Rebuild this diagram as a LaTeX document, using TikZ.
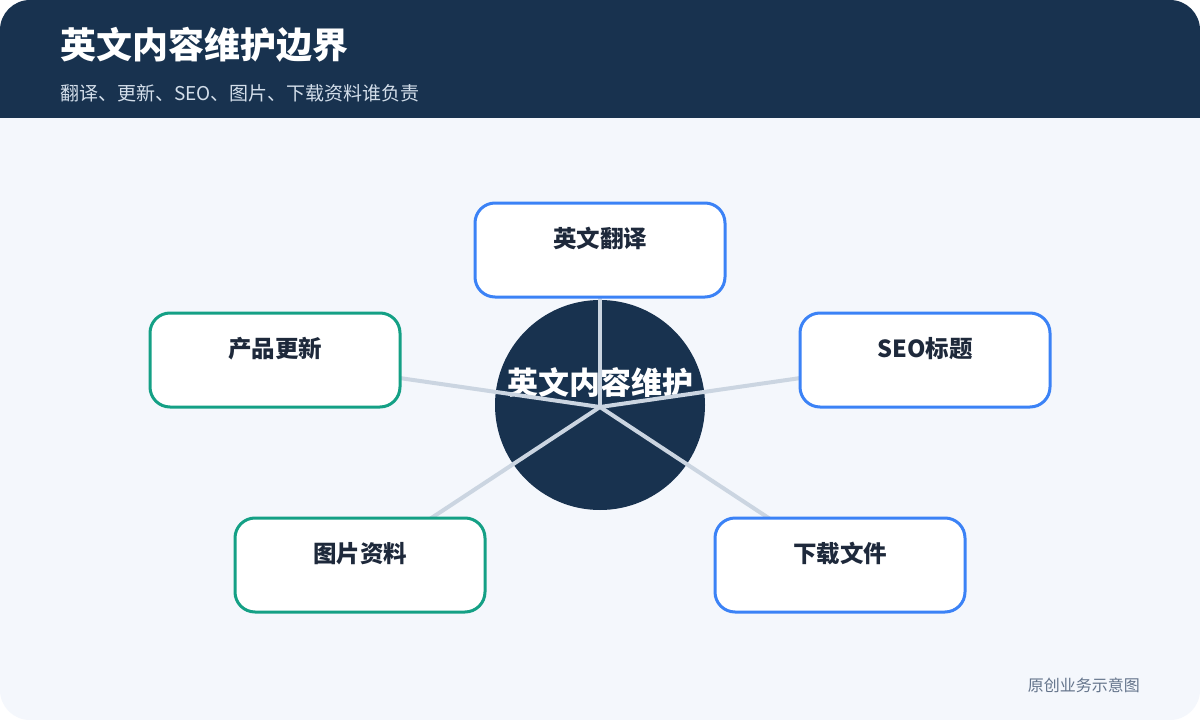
\documentclass[tikz,border=0pt]{standalone}
\usepackage{fontspec}
\setmainfont{Noto Sans CJK SC}
\definecolor{navy}{HTML}{18324F}
\definecolor{bodybg}{HTML}{F4F7FC}
\definecolor{bluebd}{HTML}{3B82F6}
\definecolor{greenbd}{HTML}{14A085}
\definecolor{inktext}{HTML}{1E293B}
\definecolor{spokec}{HTML}{CBD5E1}
\definecolor{subc}{HTML}{D3DEEA}
\definecolor{footc}{HTML}{64748B}
\begin{document}
\begin{tikzpicture}[x=1pt,y=-1pt,
  card/.style={draw=#1, line width=3pt, fill=white, rounded corners=20pt,
    minimum width=250pt, minimum height=94pt, inner sep=0pt},
  boxtxt/.style={font=\fontsize{23.5}{23.5}\selectfont\bfseries, text=inktext, inner sep=0pt},
  spoke/.style={draw=spokec, line width=4pt}]
\useasboundingbox (0,0) rectangle (1200,720);
\fill[white] (0,0) rectangle (1200,720);
\begin{scope}
\clip[rounded corners=30pt] (0,0) rectangle (1200,720);
\fill[bodybg] (0,0) rectangle (1200,720);
\fill[navy] (0,0) rectangle (1200,118);
\end{scope}
\node[anchor=west, inner sep=0pt, text=white, font=\fontsize{36}{36}\selectfont\bfseries] (title) at (60,45) {英文内容维护边界};
\node[anchor=west, inner sep=0pt, text=subc, font=\fontsize{19}{19}\selectfont] (sub) at (60,93) {翻译、更新、SEO、图片、下载资料谁负责};
% hub
\node[circle, fill=navy, minimum size=210pt, inner sep=0pt] (hub) at (600,405) {};
\coordinate (hc) at (600,407);
\node[inner sep=0pt, text=white, font=\fontsize{31}{31}\selectfont\bfseries] (hubtxt) at (600,383) {英文内容维护};
% boxes positions
\coordinate (p1) at (600,250);
\coordinate (p2) at (925,360);
\coordinate (p3) at (275,360);
\coordinate (p4) at (360,565);
\coordinate (p5) at (840,565);
\draw[spoke] (hc) -- (p1);
\draw[spoke] (hc) -- (p2);
\draw[spoke] (hc) -- (p3);
\draw[spoke] (hc) -- (p4);
\draw[spoke] (hc) -- (p5);
\node[card=bluebd] (b1) at (p1) {};
\node[card=bluebd] (b2) at (p2) {};
\node[card=greenbd] (b3) at (p3) {};
\node[card=greenbd] (b4) at (p4) {};
\node[card=bluebd] (b5) at (p5) {};
\node[boxtxt] (t1) at ([yshift=-37pt]b1.north) {英文翻译};
\node[boxtxt] (t2) at ([yshift=-37pt]b2.north) {SEO标题};
\node[boxtxt] (t3) at ([yshift=-37pt]b3.north) {产品更新};
\node[boxtxt] (t4) at ([yshift=-37pt]b4.north) {图片资料};
\node[boxtxt] (t5) at ([yshift=-37pt]b5.north) {下载文件};
\node[anchor=east, inner sep=0pt, text=footc, font=\fontsize{16}{16}\selectfont] (foot) at (1140,685) {原创业务示意图};
\end{tikzpicture}
\end{document}
